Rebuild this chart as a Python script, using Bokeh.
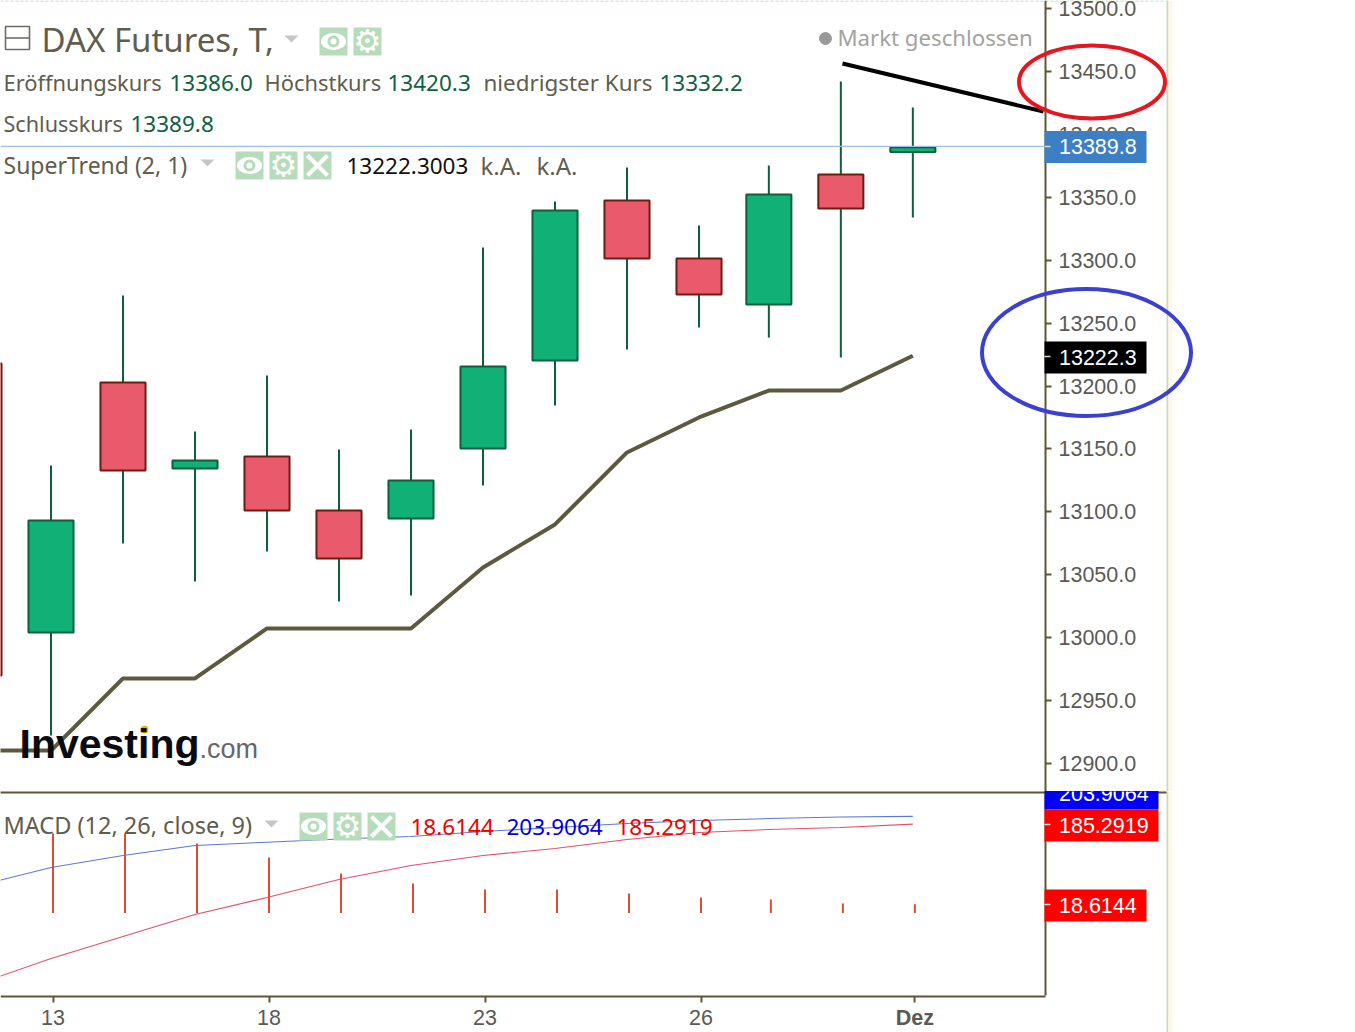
from bokeh.plotting import figure
from bokeh.layouts import column
from bokeh.models import Range1d, LinearAxis, FixedTicker, NumeralTickFormatter, Label
from bokeh.embed import file_html
from bokeh.resources import INLINE

# ---------- data ----------
session_pos = [-1, 0, 1, 2, 3, 4, 5, 6, 7, 8, 9, 9.97, 10.97, 11.97]
open_px  = [13217.9, 13004.1, 13202.8, 13134.4, 13144.0, 13101.1, 13094.7, 13150.3, 13220.3, 13347.4, 13301.3, 13264.8, 13368.1, 13386.0]
close_px = [12970.0, 13093.1, 13132.8, 13140.8, 13101.1, 13062.9, 13124.9, 13215.5, 13339.5, 13301.3, 13272.7, 13352.2, 13341.1, 13389.8]
high_px  = [13217.9, 13136.8, 13271.9, 13163.8, 13208.3, 13149.5, 13165.4, 13310.1, 13346.6, 13373.6, 13327.6, 13375.2, 13442.0, 13421.3]
low_px   = [12970.0, 12922.3, 13074.8, 13044.6, 13068.5, 13028.7, 13033.5, 13120.9, 13184.5, 13229.0, 13246.5, 13238.5, 13222.6, 13334.0]
supertrend = [12910.3, 12910.3, 12967.6, 12967.6, 13007.3, 13007.3, 13007.3, 13055.8, 13090.0, 13147.2, 13175.0, 13196.4, 13196.4, 13224.0]

macd_line   = [57.5, 95.0, 120.0, 140.8, 147.7, 154.4, 159.6, 170.0, 178.3, 186.7, 192.9, 197.0, 200.2, 201.5]
signal_line = [-146.7, -94.6, -48.8, -2.9, 32.5, 70.0, 99.2, 120.0, 134.6, 153.3, 167.9, 174.2, 178.3, 185.2919]
macd_hist   = [165.8, 165.8, 145.0, 115.8, 82.7, 61.7, 49.2, 49.2, 41.0, 32.5, 28.5, 20.0, 18.6144]

price_ticks = [13500, 13450, 13400, 13350, 13300, 13250, 13200, 13150, 13100, 13050, 13000, 12950, 12900]
date_ticks = [0, 3, 6, 9]
date_labels = ["13", "18", "23", "26"]
month_tick = 11.97
month_label = "Dez"

# ---------- layout helpers ----------
W, H_P, H_M = 1355, 791, 241
PXX = 72.0
def X(px): return (px - 50.5) / PXX
P_SCALE = 755 / 600.0
def PY(py): return 13500 - (py - 8) / P_SCALE
M_SCALE = 0.48
def MY(py): return (912.6 - py) / M_SCALE

OLIVE = "#5e5636"
TXT = "#5f5d4c"
VAL = "#12603f"
SANS = "Noto Sans"
HEL = "Liberation Sans"
TRI = "#c9c3cc"

def common(height, yr):
    f = figure(width=W, height=height, x_range=Range1d(X(0), X(W)), y_range=yr,
               output_backend="svg", toolbar_location=None, min_border=0,
               x_axis_type=None, y_axis_type=None)
    f.outline_line_color = None
    f.grid.visible = False
    f.background_fill_color = "white"
    return f

p = common(H_P, Range1d(PY(H_P), PY(0)))
m = common(H_M, Range1d(MY(1032), MY(791)))

def txt(f, Y, px, py, s, color=TXT, size=22.0, font=SANS, style="normal", align="left", base="middle"):
    if font == SANS:
        px, py = px - 1, py - 1
    f.add_layout(Label(x=X(px), y=Y(py), text=s, text_color=color, text_font=font,
                       text_font_size=f"{size}px", text_font_style=style,
                       text_align=align, text_baseline=base))

def icon_bg(f, Y, left, top):
    f.quad(left=X(left), right=X(left + 28), top=Y(top), bottom=Y(top + 28),
           fill_color="#b7dcbb", line_color=None, level="annotation")

def icon_eye(f, Y, left, top, scale):
    icon_bg(f, Y, left, top)
    cx, cy = X(left + 14), Y(top + 14)
    f.ellipse(cx, cy, width=25 / PXX, height=17 / scale, fill_color="white", line_color=None, level="annotation")
    f.ellipse(cx, cy, width=12 / PXX, height=12 / scale, fill_color="#b7dcbb", line_color=None, level="annotation")
    f.ellipse(cx, cy, width=6 / PXX, height=6 / scale, fill_color="white", line_color=None, level="annotation")

def icon_gear(f, Y, left, top):
    icon_bg(f, Y, left, top)
    txt(f, Y, left + 14, top + 13, "⚙", color="white", size=31, font="DejaVu Sans", align="center")

def icon_x(f, Y, left, top):
    icon_bg(f, Y, left, top)
    f.segment([X(left + 4), X(left + 4)], [Y(top + 4), Y(top + 24)],
              [X(left + 24), X(left + 24)], [Y(top + 24), Y(top + 4)],
              line_color="white", line_width=4, level="annotation")

def caret(f, Y, cx, cy):
    f.patch([X(cx - 7), X(cx + 7), X(cx)], [Y(cy - 3), Y(cy - 3), Y(cy + 4)],
            fill_color=TRI, line_color=None, level="annotation")

# ---------- candles ----------
up = [c >= o for o, c in zip(open_px, close_px)]
fills = ["#10b077" if u else "#e85a6c" for u in up]
edges = ["#0f5f3f" if u else "#6b1e10" for u in up]
p.segment(session_pos, high_px, session_pos, low_px, line_color="#0f5f3f", line_width=2)
p.quad(left=[x - 0.313 for x in session_pos], right=[x + 0.313 for x in session_pos],
       top=[max(a, b) for a, b in zip(open_px, close_px)],
       bottom=[min(a, b) for a, b in zip(open_px, close_px)],
       fill_color=fills, line_color=edges, line_width=2)
p.line(session_pos, supertrend, line_color="#5c5a3e", line_width=4)

# last-price line
p.line([X(0), X(1045)], [PY(145.8), PY(145.8)], line_color="#9cc0ee", line_width=1.2)

# ---------- price axis ----------
ax = LinearAxis(fixed_location=X(1045), ticker=FixedTicker(ticks=price_ticks),
                formatter=NumeralTickFormatter(format="0.0"),
                axis_line_color=OLIVE, axis_line_width=2,
                major_tick_line_color=OLIVE, major_tick_line_width=2,
                major_tick_in=0, major_tick_out=6, minor_tick_line_color=None,
                major_label_text_font=HEL, major_label_text_font_size="21.5px",
                major_label_text_color="#5a5a55", major_label_standoff=7)
p.add_layout(ax, "right")

def value_tag(f, Y, py_center, right_px, color, s, tick_py=None):
    f.quad(left=X(1044), right=X(right_px), top=Y(py_center - 16), bottom=Y(py_center + 16),
           fill_color=color, line_color=None, level="annotation")
    if tick_py is not None:
        f.segment(X(1044), Y(tick_py), X(1050), Y(tick_py), line_color="#dddddd", line_width=1.5, level="annotation")
    txt(f, Y, 1058.5, py_center - 0.5, s, color="white", size=21.5, font=HEL)

value_tag(p, PY, 146.5, 1146, "#3d7fc4", "13389.8", tick_py=146)
value_tag(p, PY, 357, 1146, "#000000", "13222.3", tick_py=356)

# ---------- header texts ----------
p.quad(left=X(5), right=X(29), top=PY(26), bottom=PY(49), fill_color=None, line_color="#6d6d66", line_width=1.6, level="annotation")
p.segment(X(5), PY(37.5), X(29), PY(37.5), line_color="#6d6d66", line_width=1.6, level="annotation")
txt(p, PY, 42, 40, "DAX Futures, T,", size=33)
caret(p, PY, 291, 38)
icon_eye(p, PY, 319, 27, P_SCALE)
icon_gear(p, PY, 353, 27)
p.scatter([X(825)], [PY(38)], size=12, color="#999999", level="annotation")
txt(p, PY, 838, 38, "Markt geschlossen", color="#a3a39e", size=22.2)

txt(p, PY, 4, 83, "Eröffnungskurs", size=21.9)
txt(p, PY, 170, 83, "13386.0", color=VAL, size=22.5)
txt(p, PY, 265, 83, "Höchstkurs", size=21.9)
txt(p, PY, 388, 83, "13420.3", color=VAL, size=22.5)
txt(p, PY, 484, 83, "niedrigster Kurs", size=22.4)
txt(p, PY, 660, 83, "13332.2", color=VAL, size=22.5)
txt(p, PY, 4, 124, "Schlusskurs", size=21.6)
txt(p, PY, 131, 124, "13389.8", color=VAL, size=22.5)
txt(p, PY, 4, 165, "SuperTrend (2, 1)", size=23)
caret(p, PY, 207, 162)
icon_eye(p, PY, 235, 151, P_SCALE)
icon_gear(p, PY, 269, 151)
icon_x(p, PY, 303, 151)
txt(p, PY, 347, 166, "13222.3003", color="#111111", size=22.5)
txt(p, PY, 481, 166, "k.A.", size=24)
txt(p, PY, 537, 166, "k.A.", size=24)

# logo
txt(p, PY, 19, 743, "Investing", color="#0b0b0f", size=41, font=HEL, style="bold", base="alphabetic")
txt(p, PY, 199, 748, ".com", color="#66666a", size=27, font=HEL, base="alphabetic")
p.scatter([X(144)], [PY(729)], size=7, color="#f0b400", level="annotation")

# page-frame decorations and hand-drawn marks
for f, Y, top_px, bottom_px in ((p, PY, 0, 791), (m, MY, 791, 1032)):
    f.segment(X(1167), Y(top_px), X(1167), Y(bottom_px), line_color="#c5dcc0", line_width=2)
    f.segment(X(1170), Y(top_px), X(1170), Y(bottom_px), line_color="#fff8e8", line_width=4)
p.segment(X(0), PY(0.5), X(1167), PY(0.5), line_color="#c8e2c6", line_width=1.5, line_dash="3 2")

p.line([X(842), X(1043)], [PY(63), PY(111)], line_color="black", line_width=4, level="annotation")
p.ellipse(x=X(1091.5), y=PY(81.5), width=146 / PXX, height=73 / P_SCALE, fill_color=None,
          line_color="#e5161f", line_width=4, level="overlay")
p.ellipse(x=X(1086), y=PY(352), width=209 / PXX, height=127 / P_SCALE, fill_color=None,
          line_color="#3b40cf", line_width=4, level="overlay")

# ---------- MACD panel ----------
hist_x = [x + 0.028 for x in session_pos[1:]]
m.segment(hist_x, [0] * len(macd_hist), hist_x, macd_hist, line_color="#e24a30", line_width=2)
m.line(session_pos, macd_line, line_color="#5a78d8", line_width=1.1)
m.line(session_pos, signal_line, line_color="#e0506a", line_width=1.1)

m.add_layout(LinearAxis(fixed_location=X(1045), ticker=FixedTicker(ticks=[]),
                        axis_line_color=OLIVE, axis_line_width=2, bounds=(MY(995), MY(791)),
                        major_tick_line_color=None, minor_tick_line_color=None), "right")
m.add_layout(LinearAxis(fixed_location=MY(995.5), ticker=FixedTicker(ticks=[t + 0.028 for t in date_ticks]),
                        major_label_overrides={t + 0.028: s for t, s in zip(date_ticks, date_labels)},
                        axis_line_color=OLIVE, axis_line_width=2, bounds=(X(0), X(1045)),
                        major_tick_line_color=OLIVE, major_tick_line_width=2,
                        major_tick_in=0, major_tick_out=6, minor_tick_line_color=None,
                        major_label_text_font=HEL, major_label_text_font_size="21.5px",
                        major_label_text_color="#5a5a55", major_label_standoff=8), "below")
m.add_layout(LinearAxis(fixed_location=MY(995.5), ticker=FixedTicker(ticks=[month_tick + 0.028]),
                        major_label_overrides={month_tick + 0.028: month_label},
                        axis_line_color=None,
                        major_tick_line_color=OLIVE, major_tick_line_width=2,
                        major_tick_in=0, major_tick_out=6, minor_tick_line_color=None,
                        major_label_text_font=HEL, major_label_text_font_size="21.5px",
                        major_label_text_font_style="bold",
                        major_label_text_color="#5a5a55", major_label_standoff=4), "below")

m.segment(X(0), MY(792), X(1166), MY(792), line_color=OLIVE, line_width=2, level="annotation")

value_tag(m, MY, 793, 1158, "#0000ff", "203.9064")
value_tag(m, MY, 825, 1158, "#ff0000", "185.2919", tick_py=824)
value_tag(m, MY, 905, 1146, "#ff0000", "18.6144", tick_py=904)

txt(m, MY, 4, 825, "MACD (12, 26, close, 9)", size=23.5)
caret(m, MY, 271, 823)
icon_eye(m, MY, 299, 812, M_SCALE)
icon_gear(m, MY, 333, 812)
icon_x(m, MY, 367, 812)
txt(m, MY, 411, 827, "18.6144", color="#ee0000", size=22.5)
txt(m, MY, 507, 827, "203.9064", color="#0000dd", size=22.5)
txt(m, MY, 617, 827, "185.2919", color="#ee0000", size=22.5)

page = column(p, m, spacing=0)
open("out.html", "w").write(file_html(page, INLINE))
